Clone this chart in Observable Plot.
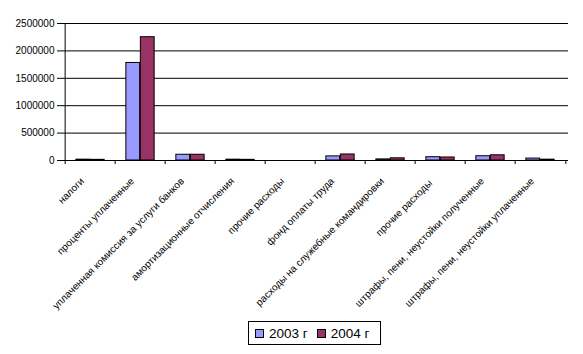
<!DOCTYPE html>
<html>
<head>
<meta charset="utf-8">
<script src="https://cdn.jsdelivr.net/npm/d3@7"></script>
<script src="https://cdn.jsdelivr.net/npm/@observablehq/plot@0.6"></script>
<style>
  body { margin: 0; background: #fff; font-family: "Liberation Sans", Arial, sans-serif; }
  #wrap { position: relative; width: 583px; height: 354px; }
  #legend { position: absolute; left: 248px; top: 321px; width: 131px; height: 22px;
    border: 1px solid #000; box-sizing: content-box; display: flex; align-items: center;
    font-size: 13.5px; color: #000; }
  .sw { display: inline-block; width: 7px; height: 7px; border: 1px solid #000; margin: 0 5px 0 6px; }
</style>
</head>
<body>
<div id="wrap"><div id="chart"></div>
<div id="legend"><span class="sw" style="background:#9999FF"></span>2003 г<span class="sw" style="background:#993366;margin-left:9px"></span>2004 г</div>
</div>
<script>
const categories = [
  "налоги",
  "проценты уплаченные",
  "уплаченная комиссия за услуги банков",
  "амортизационные отчисления",
  "прочие расходы",
  "фонд оплаты труда",
  "расходы на служебные командировки",
  "прочие расходы ",
  "штрафы, пени, неустойки полученные",
  "штрафы, пени, неустойки уплаченные"
];
const values2003 = [15000, 1780000, 105000, 15000, 0, 75000, 20000, 60000, 78000, 35000];
const values2004 = [12000, 2250000, 105000, 12000, 0, 110000, 40000, 55000, 95000, 15000];
const yTicks = [0, 500000, 1000000, 1500000, 2000000, 2500000];

const W = 583, H = 312, mL = 61, mR = 15, mT = 23, mB = H - 160;
const bw = (W - mL - mR) / categories.length;
const barW = 14.5;

const data = categories.flatMap((c, i) => [
  {cat: c, year: "2003 г", value: values2003[i]},
  {cat: c, year: "2004 г", value: values2004[i]}
]);

const chart = Plot.plot({
  width: W, height: H,
  marginLeft: mL, marginRight: mR, marginTop: mT, marginBottom: mB,
  style: {fontFamily: "'Liberation Sans', Arial, sans-serif", fontSize: "10px", color: "#000", background: "#fff"},
  x: {domain: categories, padding: 0, label: null},
  y: {domain: [0, 2500000], label: null},
  marks: [
    Plot.ruleY(yTicks, {stroke: "#000", strokeWidth: 1}),
    Plot.ruleX([categories[0]], {dx: -bw / 2, y1: 0, y2: 2500000, stroke: "#000"}),
    Plot.barY(data.filter(d => d.year === "2003 г" && d.value > 0), {x: "cat", y: "value", fill: "#9999FF", stroke: "#000", strokeWidth: 1,
      insetLeft: bw / 2 - barW, insetRight: bw / 2}),
    Plot.barY(data.filter(d => d.year === "2004 г" && d.value > 0), {x: "cat", y: "value", fill: "#993366", stroke: "#000", strokeWidth: 1,
      insetLeft: bw / 2, insetRight: bw / 2 - barW}),
    Plot.axisY({ticks: yTicks, tickFormat: d3.format("d"), tickSize: 4, tickPadding: 3, stroke: "#000", fill: "#000", label: null}),
    Plot.axisX({ticks: categories, text: null, tickSize: 4, dx: -bw / 2, stroke: "#000", label: null}),
    Plot.axisX({ticks: [categories[categories.length - 1]], text: null, tickSize: 4, dx: bw / 2, stroke: "#000", label: null}),
    Plot.axisX({ticks: categories, tickSize: 0, tickPadding: 19, tickRotate: -45, dx: -8, fill: "#000", label: null, fontSize: 10}),
    Plot.ruleY([0], {stroke: "#000"})
  ]
});
document.getElementById("chart").appendChild(chart);
</script>
</body>
</html>
